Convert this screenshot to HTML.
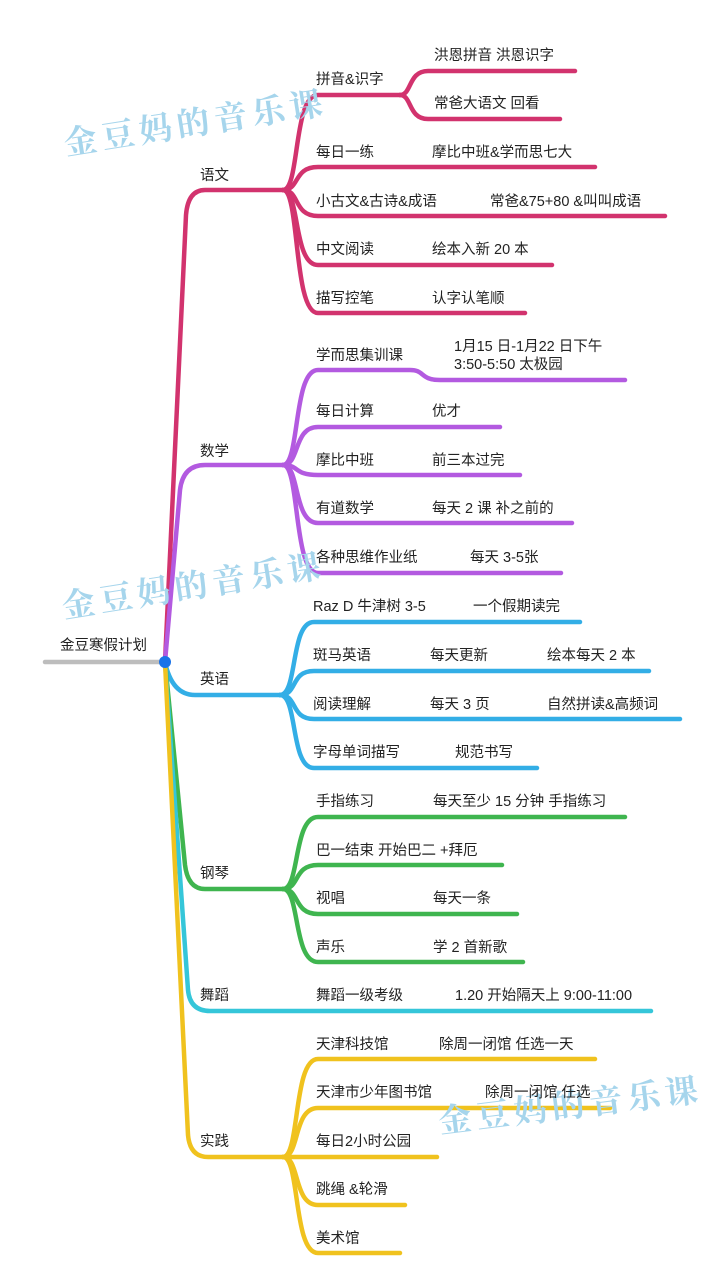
<!DOCTYPE html>
<html><head><meta charset="utf-8"><style>
html,body{margin:0;padding:0;background:#fff;}
svg{display:block}
text{font-family:"Liberation Sans","Noto Sans CJK SC",sans-serif;font-size:14.5px;fill:#222;}
.wm{font-family:"Liberation Serif","Noto Serif CJK SC",serif;font-size:33px;font-weight:bold;fill:#a6d5ec;letter-spacing:5px;}
</style></head><body>
<svg width="727" height="1280" viewBox="0 0 727 1280" xmlns="http://www.w3.org/2000/svg">
<g fill="none" stroke-linecap="round" stroke-width="4.5">
<path d="M45 662 L165 662" stroke="#bdbdbd"/>
<g stroke="#d2336e">
<path d="M165 662 L186 215 Q188 190 205 190 L283 190"/>
<path d="M283 190 C300 190,293 95,318 95 L400 95"/>
<path d="M400 95 C412 95,408 71,428 71 L575 71"/>
<path d="M400 95 C412 95,408 119,428 119 L560 119"/>
<path d="M283 190 C300 190,293 167,318 167 L595 167"/>
<path d="M283 190 C300 190,293 216,318 216 L665 216"/>
<path d="M283 190 C300 190,293 265,318 265 L552 265"/>
<path d="M283 190 C300 190,293 313,318 313 L525 313"/>
</g>
<g stroke="#b35ae0">
<path d="M165 662 L180 490 Q183 465 205 465 L283 465"/>
<path d="M283 465 C300 465,293 370,318 370 L410 370 C425 370,420 380,440 380 L625 380"/>
<path d="M283 465 C300 465,293 427,318 427 L500 427"/>
<path d="M283 465 C300 465,293 475,318 475 L520 475"/>
<path d="M283 465 C300 465,293 523,318 523 L572 523"/>
<path d="M283 465 C300 465,293 573,318 573 L561 573"/>
</g>
<g stroke="#33aee6">
<path d="M165 662 Q172 695 195 695 L280 695"/>
<path d="M280 695 C298 695,290 622,314 622 L580 622"/>
<path d="M280 695 C298 695,290 671,314 671 L649 671"/>
<path d="M280 695 C298 695,290 719,314 719 L680 719"/>
<path d="M280 695 C298 695,290 768,314 768 L537 768"/>
</g>
<g stroke="#3fb54f">
<path d="M165 662 L185 865 Q188 889 205 889 L283 889"/>
<path d="M283 889 C300 889,293 817,318 817 L625 817"/>
<path d="M283 889 C300 889,293 865,318 865 L502 865"/>
<path d="M283 889 C300 889,293 914,318 914 L517 914"/>
<path d="M283 889 C300 889,293 962,318 962 L523 962"/>
</g>
<path d="M165 662 L188 990 Q190 1011 210 1011 L651 1011" stroke="#35c6d9"/>
<g stroke="#f0c21e">
<path d="M165 662 L188 1135 Q190 1157 208 1157 L283 1157"/>
<path d="M283 1157 C300 1157,293 1059,318 1059 L595 1059"/>
<path d="M283 1157 C300 1157,293 1108,318 1108 L610 1108"/>
<path d="M283 1157 L437 1157"/>
<path d="M283 1157 C300 1157,293 1205,318 1205 L405 1205"/>
<path d="M283 1157 C300 1157,293 1253,318 1253 L400 1253"/>
</g>
</g>
<circle cx="165" cy="662" r="6" fill="#1a73e8"/>
<text class="wm" x="66" y="155" transform="rotate(-9 66 155)">金豆妈的音乐课</text>
<text class="wm" x="64" y="618" transform="rotate(-9 64 618)">金豆妈的音乐课</text>
<text class="wm" x="440" y="1133" transform="rotate(-7 440 1133)">金豆妈的音乐课</text>
<text x="60" y="650">金豆寒假计划</text>
<text x="200" y="180">语文</text>
<text x="200" y="456">数学</text>
<text x="200" y="684">英语</text>
<text x="200" y="878">钢琴</text>
<text x="200" y="1000">舞蹈</text>
<text x="200" y="1146">实践</text>

<text x="316" y="84">拼音&amp;识字</text>
<text x="434" y="60">洪恩拼音 洪恩识字</text>
<text x="434" y="108">常爸大语文 回看</text>
<text x="316" y="157">每日一练</text><text x="432" y="157">摩比中班&amp;学而思七大</text>
<text x="316" y="206">小古文&amp;古诗&amp;成语</text><text x="490" y="206">常爸&amp;75+80 &amp;叫叫成语</text>
<text x="316" y="254">中文阅读</text><text x="432" y="254">绘本入新 20 本</text>
<text x="316" y="303">描写控笔</text><text x="432" y="303">认字认笔顺</text>

<text x="316" y="360">学而思集训课</text>
<text x="454" y="351">1月15 日-1月22 日下午</text>
<text x="454" y="369">3:50-5:50 太极园</text>
<text x="316" y="416">每日计算</text><text x="432" y="416">优才</text>
<text x="316" y="465">摩比中班</text><text x="432" y="465">前三本过完</text>
<text x="316" y="513">有道数学</text><text x="432" y="513">每天 2 课 补之前的</text>
<text x="316" y="562">各种思维作业纸</text><text x="470" y="562">每天 3-5张</text>

<text x="313" y="611">Raz D 牛津树 3-5</text><text x="473" y="611">一个假期读完</text>
<text x="313" y="660">斑马英语</text><text x="430" y="660">每天更新</text><text x="547" y="660">绘本每天 2 本</text>
<text x="313" y="709">阅读理解</text><text x="430" y="709">每天 3 页</text><text x="547" y="709">自然拼读&amp;高频词</text>
<text x="313" y="757">字母单词描写</text><text x="455" y="757">规范书写</text>

<text x="316" y="806">手指练习</text><text x="433" y="806">每天至少 15 分钟 手指练习</text>
<text x="316" y="855">巴一结束 开始巴二 +拜厄</text>
<text x="316" y="903">视唱</text><text x="433" y="903">每天一条</text>
<text x="316" y="952">声乐</text><text x="433" y="952">学 2 首新歌</text>
<text x="316" y="1000">舞蹈一级考级</text><text x="455" y="1000">1.20 开始隔天上 9:00-11:00</text>

<text x="316" y="1049">天津科技馆</text><text x="439" y="1049">除周一闭馆 任选一天</text>
<text x="316" y="1097">天津市少年图书馆</text><text x="485" y="1097">除周一闭馆 任选</text>
<text x="316" y="1146">每日2小时公园</text>
<text x="316" y="1194">跳绳 &amp;轮滑</text>
<text x="316" y="1243">美术馆</text>
</svg>
</body></html>
